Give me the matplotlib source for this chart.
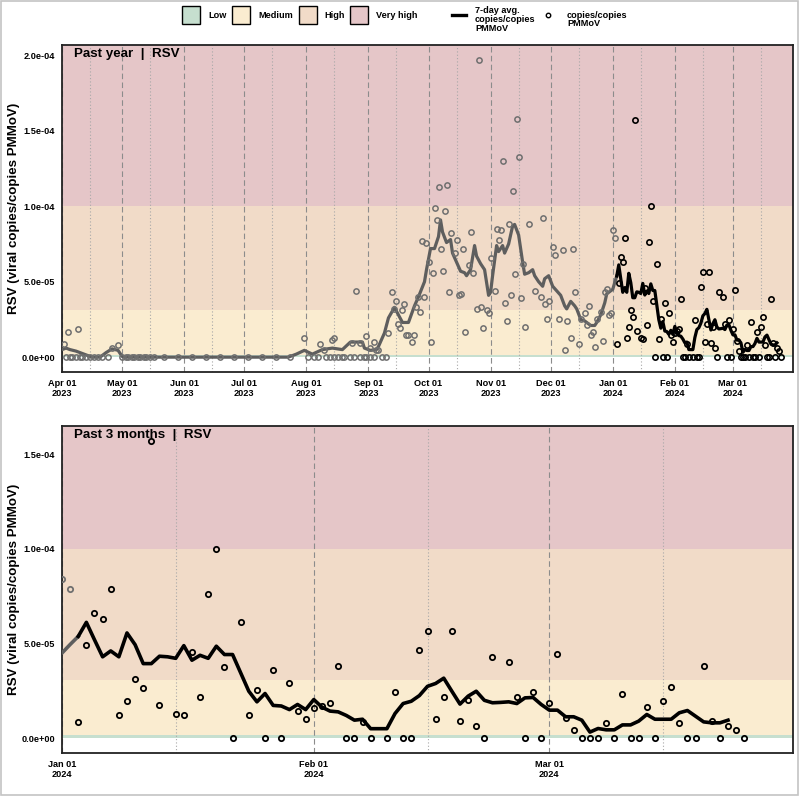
import numpy as np
import pandas as pd
import matplotlib
matplotlib.use("Agg")
import matplotlib.pyplot as plt
import matplotlib.dates as mdates
from matplotlib.patches import Rectangle
from matplotlib.lines import Line2D
from matplotlib.ticker import FuncFormatter

plt.rcParams['font.family'] = ['Liberation Sans', 'DejaVu Sans']
plt.rcParams['font.weight'] = 'bold'

YEAR_START = pd.Timestamp('2023-04-01')
Q_START = pd.Timestamp('2024-01-01')
SCALE = 1e-5

# earlier samples (grey): (day offset from 2023-04-01, value in 1e-5)
early_samples = [
    (1, 0.88), (2, 0), (3, 1.65), (4, 0), (5, 0), (7, 0), (8, 1.87), (9, 0), (10, 0),
    (12, 0), (14, 0), (16, 0), (18, 0), (20, 0), (23, 0), (25, 0.6), (28, 0.83),
    (30, 0), (32, 0), (33, 0), (35, 0), (36, 0), (38, 0), (39, 0), (41, 0), (42, 0), (44, 0),
    (46, 0), (51, 0), (58, 0), (65, 0), (72, 0), (79, 0), (86, 0), (93, 0), (100, 0),
    (107, 0), (114, 0),
    (121, 1.3), (123, 0), (126, 0), (128, 0), (129, 0.86), (131, 0.45), (132, 0), (134, 0),
    (135, 1.16), (136, 1.3), (136, 0), (138, 0), (140, 0), (141, 0), (144, 0), (145, 0.95),
    (146, 0), (147, 4.4), (149, 0.95), (149, 0), (151, 0), (152, 1.4), (152, 0), (154, 0),
    (154, 0.6), (156, 1.0), (156, 0), (157, 0.5), (158, 0.5), (160, 0), (162, 0),
    (163, 1.6), (165, 4.3), (166, 3.2), (167, 3.7), (168, 2.2), (169, 1.9), (170, 3.1),
    (171, 3.5), (172, 1.5), (173, 1.5), (175, 1.0), (176, 1.5), (177, 3.3), (178, 4.0),
    (179, 3.0), (180, 7.7), (181, 4.0), (182, 7.6), (183, 6.3), (184, 1.0), (185, 5.6),
    (186, 9.9), (187, 9.1), (188, 11.3), (189, 7.2), (190, 5.7), (191, 9.7), (192, 11.4),
    (193, 4.3), (194, 8.2), (196, 6.9), (197, 7.8), (198, 4.1), (199, 4.2), (200, 7.2),
    (201, 1.7), (203, 6.1), (204, 8.3), (205, 5.6), (207, 3.2), (208, 19.7), (209, 3.3),
    (210, 1.9), (212, 3.1), (213, 2.9), (214, 6.6), (216, 4.4), (217, 8.5), (218, 7.8),
    (219, 8.4), (220, 13.0), (221, 3.6), (222, 2.4), (223, 8.8), (224, 4.1), (225, 11.0),
    (226, 5.5), (227, 15.8), (228, 13.3), (229, 3.9), (230, 6.2), (231, 2.0), (233, 8.8),
    (236, 4.4), (239, 4.0), (240, 9.2), (241, 3.5), (242, 2.5), (243, 3.7), (245, 7.3),
    (246, 6.8), (248, 2.5), (250, 7.1), (251, 0.5), (252, 2.4), (254, 1.3), (255, 7.2),
    (256, 4.3), (258, 0.9), (259, 2.5), (261, 2.9), (262, 2.1), (263, 3.4), (264, 1.5),
    (265, 1.7), (266, 0.7), (267, 2.5), (269, 3.0), (270, 1.1), (271, 4.3), (272, 4.5),
    (273, 2.8), (274, 2.9), (275, 8.4), (276, 7.9),
]

# earlier 7-day average (grey): (day offset from 2023-04-01, value in 1e-5)
early_avg = [
    (0, 0.5), (2, 0.6), (4, 0.5), (7, 0.4), (10, 0.25), (13, 0.1), (15, 0), (19, 0),
    (22, 0.3), (25, 0.55), (28, 0.45), (30, 0.05), (31, 0), (113, 0), (117, 0.2),
    (121, 0.45), (125, 0.2), (130, 0.5), (135, 0.6), (140, 0.5), (144, 1.0), (150, 1.0),
    (151, 0.6), (154, 0.45), (157, 0.5), (158, 0.7), (161, 1.6), (163, 2.6), (166, 3.3),
    (168, 2.8), (170, 2.3), (173, 2.3), (176, 3.4), (178, 4.0), (181, 5.0), (182, 5.8),
    (184, 7.2), (186, 7.2), (188, 8.0), (189, 9.1), (190, 8.3), (192, 7.6), (194, 7.8),
    (195, 6.9), (197, 6.3), (199, 5.7), (201, 5.6), (202, 5.4), (204, 5.8), (206, 7.4),
    (207, 6.7), (209, 6.2), (211, 5.8), (213, 4.1), (214, 4.3), (215, 5.4), (217, 7.4),
    (218, 7.0), (220, 7.4), (221, 6.9), (223, 7.5), (225, 8.7), (226, 8.8), (228, 8.1),
    (230, 6.3), (231, 5.5), (233, 5.6), (235, 5.8), (236, 5.4), (238, 5.0), (240, 4.7),
    (241, 5.2), (243, 5.4), (245, 4.7), (247, 4.4), (249, 4.1), (251, 3.4), (252, 3.2),
    (254, 3.7), (256, 3.4), (257, 3.2), (259, 2.5), (261, 2.4), (262, 2.3), (264, 2.1),
    (266, 2.1), (267, 2.3), (269, 2.8), (271, 3.6), (272, 4.2), (273, 4.3), (274, 4.4),
    (275, 4.5), (276, 4.95), (277, 5.38),
]

# recent samples (black): (day offset from 2024-01-01, value in 1e-5)
recent_samples = [
    (2, 0.84), (3, 4.9), (4, 6.63), (5, 6.3), (6, 7.9), (7, 1.25), (8, 1.99), (9, 3.13),
    (10, 2.66), (11, 15.73), (12, 1.73), (14, 1.29), (15, 1.2), (16, 4.56), (17, 2.16),
    (18, 7.62), (19, 10.0), (20, 3.75), (21, 0), (22, 6.16), (23, 1.21), (24, 2.53),
    (25, 0), (26, 3.59), (27, 0), (28, 2.9), (29, 1.46), (30, 0.99), (31, 1.57),
    (32, 1.71), (33, 1.85), (34, 3.84), (35, 0), (36, 0), (37, 0.86), (38, 0), (40, 0),
    (41, 2.45), (42, 0), (43, 0), (44, 4.64), (45, 5.65), (46, 0.99), (47, 2.2),
    (48, 5.67), (49, 0.93), (50, 2.0), (51, 0.63), (52, 0), (53, 4.31), (55, 4.0),
    (56, 2.2), (57, 0), (58, 2.46), (59, 0), (60, 1.87), (61, 4.45), (62, 1.08),
    (63, 0.44), (64, 0), (65, 0), (66, 0), (67, 0.81), (68, 0), (69, 2.31), (70, 0),
    (71, 0), (72, 1.66), (73, 0), (74, 1.99), (75, 2.68), (76, 0.78), (77, 0), (78, 0),
    (79, 3.84), (80, 0.93), (81, 0), (82, 0.63), (83, 0.42), (84, 0),
]

# recent 7-day average (black), daily from 2024-01-03 (value in 1e-5)
recent_avg_start = 2
recent_avg = [
    5.38, 6.12, 5.2, 4.3, 4.61, 4.3, 5.56, 4.94, 3.94, 3.94,
    4.33, 4.3, 4.22, 4.89, 4.12, 4.38, 4.22, 4.86, 4.42, 4.42,
    3.45, 2.48, 1.92, 2.36, 1.73, 1.70, 1.51, 1.78, 1.51, 2.04,
    1.64, 1.43, 1.39, 1.2, 0.95, 1.0, 0.5, 0.5, 0.5, 1.3,
    1.83, 1.95, 2.25, 2.74, 2.89, 3.17, 2.48, 1.8, 2.22, 2.48,
    2.0, 1.87, 1.89, 1.92, 1.83, 2.13, 2.15, 1.78, 1.48, 1.48,
    1.13, 1.13, 0.95, 0.32, 0.51, 0.44, 0.44, 0.7, 0.7, 0.9,
    1.25, 1.0, 1.0, 1.0, 1.34, 1.46, 1.16, 0.86, 0.81, 0.81, 0.95,
]

# risk levels (value thresholds)
level_names = ['Low', 'Medium', 'High', 'Very high']
level_bounds = [0, 1.5e-6, 3.1e-5, 1.0e-4, 1.0]
level_colors = ['#c6dfcf', '#faecd0', '#f1dbc8', '#e5c6c8']

panel_titles = ['Past year  |  RSV', 'Past 3 months  |  RSV']
y_label = 'RSV (viral copies/copies PMMoV)'

def to_dates(start, days):
    return start + pd.to_timedelta(np.asarray(days, dtype=float), unit='D')

e_d, e_v = zip(*early_samples)
ea_d, ea_v = zip(*early_avg)
r_d, r_v = zip(*recent_samples)
e_x = to_dates(YEAR_START, e_d); e_y = np.array(e_v) * SCALE
ea_x = to_dates(YEAR_START, ea_d); ea_y = np.array(ea_v) * SCALE
r_x = to_dates(Q_START, r_d); r_y = np.array(r_v) * SCALE
ra_x = to_dates(Q_START, np.arange(recent_avg_start, recent_avg_start + len(recent_avg)))
ra_y = np.array(recent_avg) * SCALE

GREY_PT = '#6f6f6f'
GREY_LN = '#5e5e5e'

fig = plt.figure(figsize=(8, 8), dpi=100)
W = 800.0
ax1 = fig.add_axes([62 / W, 1 - 372 / W, 731 / W, 327 / W])
ax2 = fig.add_axes([62 / W, 1 - 753 / W, 731 / W, 327 / W])

def sci(v, pos):
    return '%.1e' % v

def setup(ax, xmin, xmax, ymin, ymax, yticks, major_months, title):
    ax.set_xlim(xmin, xmax)
    ax.set_ylim(ymin, ymax)
    for lo, hi, c in zip(level_bounds[:-1], level_bounds[1:], level_colors):
        ax.axhspan(lo, min(hi, ymax), color=c, lw=0, zorder=0)
    m = pd.date_range(xmin, xmax, freq='MS')
    for d in m:
        ax.axvline(d, color='#8c8c8c', lw=0.8, ls=(0, (5, 3)), zorder=1)
    mid = m + pd.Timedelta(days=14)
    for d in mid:
        if d < xmax:
            ax.axvline(d, color='#a8a8a8', lw=0.8, ls=(0, (1, 2)), zorder=1)
    ax.set_xticks(major_months)
    ax.xaxis.set_major_formatter(mdates.DateFormatter('%b %d\n%Y'))
    ax.set_yticks(yticks)
    ax.yaxis.set_major_formatter(FuncFormatter(sci))
    ax.tick_params(axis='x', labelsize=6.6, length=0, colors='black', pad=5)
    ax.tick_params(axis='y', labelsize=6.6, length=0, colors='black', pad=5)
    for lab in ax.get_xticklabels() + ax.get_yticklabels():
        lab.set_fontweight('bold')
    for sp in ax.spines.values():
        sp.set_linewidth(1.3)
        sp.set_color('#222222')
    ax.set_ylabel(y_label, fontsize=9.6, fontweight='bold')
    ax.yaxis.set_label_coords(-0.0575, 0.5)
    ax.text(0.016, 0.99, title, transform=ax.transAxes, ha='left', va='top',
            fontsize=9.6, fontweight='bold', zorder=2)

# top panel
x1min, x1max = pd.Timestamp('2023-04-01'), pd.Timestamp('2024-03-31')
setup(ax1, x1min, x1max, -0.985e-5, 2.07e-4, [0, 5e-5, 1e-4, 1.5e-4, 2e-4],
      pd.date_range('2023-04-01', '2024-03-01', freq='MS'), panel_titles[0])
ax1.plot(ea_x, ea_y, color=GREY_LN, lw=2.3, zorder=3, solid_joinstyle='round')
ax1.plot(e_x, e_y, 'o', ms=3.8, mfc='none', mec=GREY_PT, mew=1.1, zorder=4)
ax1.plot(ra_x, ra_y, color='black', lw=2.3, zorder=5, solid_joinstyle='round')
ax1.plot(r_x, r_y, 'o', ms=3.8, mfc='none', mec='black', mew=1.2, zorder=6)

# bottom panel
x2min, x2max = pd.Timestamp('2024-01-01'), pd.Timestamp('2024-03-31')
setup(ax2, x2min, x2max, -0.785e-5, 1.65e-4, [0, 5e-5, 1e-4, 1.5e-4],
      pd.date_range('2024-01-01', '2024-03-01', freq='MS'), panel_titles[1])
ax2.plot(ea_x, ea_y, color=GREY_LN, lw=2.6, zorder=3, solid_joinstyle='round')
ax2.plot(e_x, e_y, 'o', ms=3.8, mfc='none', mec=GREY_PT, mew=1.3, zorder=4)
ax2.plot(ra_x, ra_y, color='black', lw=2.6, zorder=5, solid_joinstyle='round')
ax2.plot(r_x, r_y, 'o', ms=3.8, mfc='none', mec='black', mew=1.3, zorder=6)

# legend (figure level)
ly = 1 - 15 / W
box_x = [182, 232, 299, 350]
text_x = [208, 258, 324, 376]
for bx, tx, name, c in zip(box_x, text_x, level_names, level_colors):
    fig.patches.append(Rectangle((bx / W, 1 - 24 / W), 18 / W, 18 / W, transform=fig.transFigure,
                                 facecolor=c, edgecolor='black', lw=1.0))
    fig.text(tx / W, ly, name, fontsize=6.6, fontweight='bold', ha='left', va='center')
fig.add_artist(Line2D([452 / W, 466 / W], [ly, ly], color='black', lw=2.4, transform=fig.transFigure))
fig.text(475 / W, 1 - 19.5 / W, '7-day avg.\ncopies/copies\nPMMoV', fontsize=6.6, fontweight='bold',
         ha='left', va='center', linespacing=1.0)
fig.add_artist(Line2D([548 / W], [ly], marker='o', ms=3.2, mfc='none', mec='black', mew=1.0,
                      transform=fig.transFigure))
fig.text(567 / W, 1 - 19.5 / W, 'copies/copies\nPMMoV', fontsize=6.6, fontweight='bold',
         ha='left', va='center', linespacing=1.0)

# outer border
fig.patches.append(Rectangle((0.5 / W, 5 / W), 797 / W, 794 / W, transform=fig.transFigure,
                             fill=False, edgecolor='#c4c4c4', lw=1.2))

fig.savefig('out.png', dpi=100)
